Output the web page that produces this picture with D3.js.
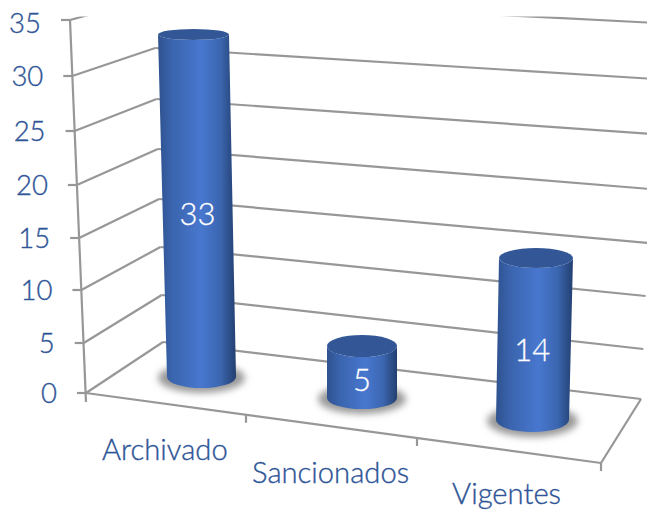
<!DOCTYPE html>
<html><head><meta charset="utf-8">
<script src="https://cdn.jsdelivr.net/npm/d3@7/dist/d3.min.js"></script>
<style>html,body{margin:0;padding:0;background:#fff}svg{display:block}text{font-family:Lato,"Open Sans",sans-serif;font-weight:300}</style>
</head><body><div id="c"></div>
<script>
const categories = ["Archivado","Sancionados","Vigentes"];
const values = [33,5,14];
const tickValues = [0,5,10,15,20,25,30,35];

// perspective: each wall edge is a piecewise scale over the value ticks
const frontY = [393,343,290,238,185,131,76,20];
const backLeftY = [342,295,247,199,149,99,48,-3];
const backRightY = [399,349,296,243,189,134,79,23];
const W=647,H=511;
const yFront=d3.scaleLinear().domain(tickValues).range(frontY);
const xFront=d3.scaleLinear().domain([0,35]).range([86,70]);
const yBackL=d3.scaleLinear().domain(tickValues).range(backLeftY);
const xBackL=d3.scaleLinear().domain([0,35]).range([163,154]);
const yBackR=d3.scaleLinear().domain(tickValues).range(backRightY);
const xBackR=d3.scaleLinear().domain([0,35]).range([641,657]);
// floor front edge, category boundaries
const xCat=d3.scaleLinear().domain([0,1,2,3]).range([86,246,417,601]);
const yCat=d3.scaleLinear().domain([86,601]).range([393,463]);

// columns: per-category projection of a value
const colCx=[[201.5,193.5,33],[362,362,5],[532.5,536,14]];
const colCy=[[377,34.5,33],[398,346,5],[420,258,14]];
const colRx=[[34.5,35.5,33],[35,35,5],[36.5,37,14]];
const colRy=[[11,5.5,33],[11,11,5],[12,10,14]];
const sc=a=>d3.scaleLinear().domain([0,a[2]]).range([a[0],a[1]]);

const svg=d3.select("#c").append("svg").attr("width",W).attr("height",H);
const defs=svg.append("defs");
const grad=defs.append("linearGradient").attr("id","body");
[[0,"#2f528f"],[.18,"#3a64ad"],[.55,"#4877cf"],[.8,"#3b66b0"],[1,"#233f70"]].forEach(s=>grad.append("stop").attr("offset",s[0]).attr("stop-color",s[1]));
defs.append("filter").attr("id","blur").attr("x","-30%").attr("y","-60%").attr("width","160%").attr("height","220%")
  .append("feGaussianBlur").attr("stdDeviation",3.5);
defs.append("clipPath").attr("id","clip").append("rect").attr("x",0).attr("y",16.5).attr("width",W).attr("height",H);

const grey="#979797";
const line=(g,x1,y1,x2,y2)=>g.append("line").attr("x1",x1).attr("y1",y1).attr("x2",x2).attr("y2",y2).attr("stroke",grey).attr("stroke-width",2.2);
const grid=svg.append("g").attr("clip-path","url(#clip)");
tickValues.forEach(v=>{
  line(grid,xFront(v),yFront(v),xBackL(v),yBackL(v));
  line(grid,xBackL(v),yBackL(v),xBackR(v),yBackR(v));
});
const ax=svg.append("g");
line(ax,xFront(35),yFront(35),xFront(0),yFront(0)+9);
tickValues.forEach(v=>line(ax,xFront(v)-9,yFront(v),xFront(v),yFront(v)));
line(ax,xCat(0),yCat(xCat(0)),xCat(3),yCat(xCat(3)));
line(ax,xCat(3),yCat(xCat(3)),xBackR(0),yBackR(0));
[1,2,3].forEach(i=>{const x=xCat(i);line(ax,x,yCat(x),x,yCat(x)+8);});

svg.append("g").selectAll("text").data(tickValues).join("text")
  .attr("x",v=>xFront(v)-29).attr("y",v=>yFront(v)+(v===35?13:10)).attr("text-anchor","end")
  .attr("font-size",27.5).attr("fill","#2f5597").attr("stroke","#2f5597").attr("stroke-width",0.35).text(d=>d);

categories.forEach((c,i)=>{
  const cx=sc(colCx[i]),cy=sc(colCy[i]),rx=sc(colRx[i]),ry=sc(colRy[i]),v=values[i];
  svg.append("ellipse").attr("cx",cx(0)).attr("cy",cy(0)+1).attr("rx",rx(0)+9).attr("ry",ry(0)+4)
    .attr("fill","#999999").attr("filter","url(#blur)");
  const p=`M${cx(v)-rx(v)},${cy(v)}L${cx(0)-rx(0)},${cy(0)}A${rx(0)},${ry(0)} 0 0 0 ${cx(0)+rx(0)},${cy(0)}L${cx(v)+rx(v)},${cy(v)}A${rx(v)},${ry(v)} 0 0 1 ${cx(v)-rx(v)},${cy(v)}Z`;
  svg.append("path").attr("d",p).attr("fill","url(#body)");
  svg.append("ellipse").attr("cx",cx(v)).attr("cy",cy(v)).attr("rx",rx(v)).attr("ry",ry(v)).attr("fill","#335796");
  svg.append("text").attr("x",cx(v/2)+(i===0?0:i===2?-2:0)).attr("y",cy(v/2)+(i===2?22:19)).attr("text-anchor","middle")
    .attr("font-size",31).attr("fill","#fff").attr("stroke","#fff").attr("stroke-width",0.3).text(v);
});

const labelX=[102,252,452],labelY=[460,483,504];
svg.append("g").selectAll("text.c").data(categories).join("text").attr("class","c")
  .attr("x",(d,i)=>labelX[i]).attr("y",(d,i)=>labelY[i]).attr("font-size",29.2).attr("fill","#2f5597").attr("stroke","#2f5597").attr("stroke-width",0.35).text(d=>d);
</script></body></html>
